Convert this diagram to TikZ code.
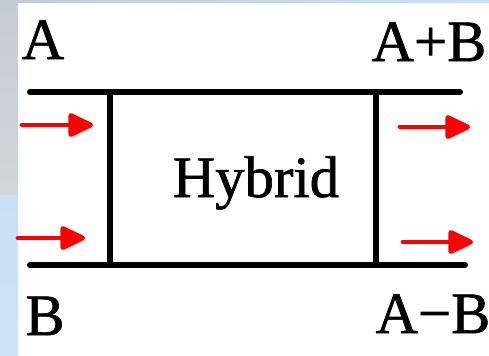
\documentclass[tikz,border=0pt]{standalone}
\usepackage{fontspec}
\setmainfont{Liberation Serif}
\newfontfamily\portfont{Liberation Serif}[FakeBold=1.1]
\usetikzlibrary{arrows.meta}
\definecolor{skygray}{RGB}{196,204,212}
\definecolor{skyblue}{RGB}{200,224,246}
\begin{document}
\begin{tikzpicture}[x=0.75pt,y=-0.75pt, >={Triangle[round,length=21pt,width=19pt]}]
  \tikzset{wire/.style={line width=4.5pt, line cap=round},
    flow/.style={->, red, line width=3.6pt, line cap=round},
    port/.style={font=\portfont\fontsize{44}{48}\selectfont, anchor=base, inner sep=0pt}}
  \useasboundingbox (0,0) rectangle (489,355);
  % backdrop strips
  \shade[top color=skygray, bottom color=skygray!80!white] (0,0) rectangle (18,195);
  \shade[top color=skyblue, bottom color=skyblue!90!white] (0,195) rectangle (18,355);
  \shade[left color=skygray, right color=skyblue] (18,0) rectangle (489,2.5);
  % the hybrid box
  \node[draw, line width=4.5pt, inner sep=0pt,
        minimum width=199.5pt, minimum height=129.75pt] (hyb) at (243,178.5) {};
  \node[port] (name) at (256,197) {Hybrid};
  % port lines
  \coordinate (tl) at (30,92);  \coordinate (tr) at (460,92);
  \coordinate (bl) at (30,265); \coordinate (br) at (465,265);
  \draw[wire] (tl) -- (tr);
  \draw[wire] (bl) -- (br);
  % signal arrows
  \foreach \n/\xa/\xb/\y in {ina/22/93/125, inb/18/85/238, outs/400/470/127, outd/403/473/242}{
    \coordinate (\n-s) at (\xa,\y); \coordinate (\n-e) at (\xb,\y);
    \draw[flow] (\n-s) -- (\n-e);
  }
  % port names
  \node[port] (pa) at (43,59) {A};
  \node[port] (pb) at (45,335) {B};
  \node[port] (psum) at (429,61) {A+B};
  \node[port] (pdif) at (433,333) {A−B};
\end{tikzpicture}
\end{document}
